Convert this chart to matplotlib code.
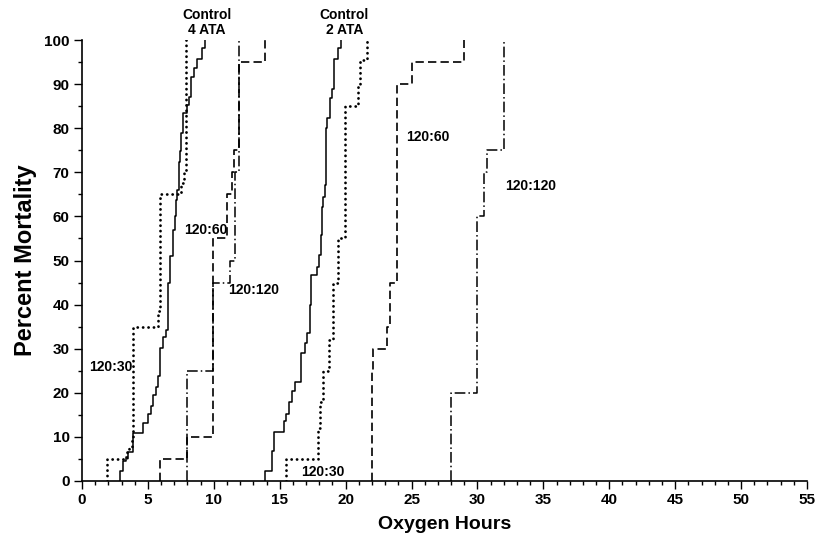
import numpy as np
import matplotlib.pyplot as plt
from matplotlib.ticker import MultipleLocator

plt.rcParams['font.family'] = ['Liberation Sans', 'DejaVu Sans']
plt.rcParams['font.weight'] = 'bold'

# 4 ATA group: step times (oxygen hours) and cumulative mortality (%)
ctrl4_x = [2.9, 3.1, 3.3, 3.5, 3.9, 4.65, 5.0, 5.25, 5.4, 5.6, 5.75, 5.92, 6.12, 6.37, 6.55,
           6.7, 6.88, 7.06, 7.13, 7.23, 7.36, 7.44, 7.51, 7.69, 7.99, 8.14, 8.27, 8.5, 8.7, 9.08, 9.33]
ctrl4_y = [2.3, 4.5, 5.5, 6.6, 10.9, 13.1, 15.2, 17, 19.5, 21.4, 23.7, 30.1, 32.7, 34.2, 44.8,
           51, 57, 60, 63.7, 66, 72.4, 74.8, 78.8, 83.4, 85.3, 87.1, 91.7, 93.6, 95.8, 98.1, 100]
i30_4_x = [1.92, 3.4, 3.6, 3.77, 3.9, 5.75, 5.92, 7.5, 7.7, 7.9]
i30_4_y = [5, 6.5, 7.8, 9.7, 35, 38.5, 65, 67.5, 70, 100]
i60_4_x = [5.92, 7.94, 9.96, 10.97, 11.36, 11.53, 11.94, 13.9]
i60_4_y = [5, 10, 55, 65, 70, 75, 95, 100]
i120_4_x = [7.94, 9.96, 11.23, 11.6, 11.94]
i120_4_y = [25, 45, 50, 70, 100]

# 2 ATA group
ctrl2_x = [13.9, 14.4, 14.6, 15.3, 15.5, 15.7, 15.9, 16.16, 16.6, 16.9, 17.1, 17.3, 17.37,
           17.85, 17.98, 18.1, 18.2, 18.3, 18.4, 18.5, 18.57, 18.8, 19.0, 19.14, 19.45, 19.65]
ctrl2_y = [2.3, 6.8, 11.2, 13.5, 15.3, 18, 20.3, 22.5, 29, 31.2, 33.5, 40, 46.7,
           48.6, 51.2, 55.8, 62.2, 64.5, 67.1, 80, 82.2, 86.8, 89, 95.8, 98.1, 100]
i30_2_x = [15.5, 17.9, 18.05, 18.26, 18.76, 19.05, 19.45, 19.95, 20.9, 21.1, 21.6]
i30_2_y = [5, 12, 18, 25, 32, 45, 55, 85, 90, 95.5, 100]
i60_2_x = [22.0, 22.1, 23.17, 23.37, 23.9, 25.0, 29.0]
i60_2_y = [25, 30, 35, 45, 90, 95, 100]
i120_2_x = [28.0, 30.0, 30.5, 30.75, 32.0]
i120_2_y = [20, 60, 70, 75, 100]

dotted = dict(color='black', lw=2.0, linestyle=(0, (0.05, 1.9)), dash_capstyle='round')
solid = dict(color='black', lw=1.1)
dashed = dict(color='black', lw=1.2, linestyle=(0, (5, 2.5)))
dashdot = dict(color='black', lw=1.1, linestyle=(0, (7, 2, 1, 2)))


def draw(ax, xs, ys, style):
    x = np.r_[xs[0], xs]
    y = np.r_[0, ys]
    ax.step(x, y, where='post', **style)


fig = plt.figure(figsize=(8.31, 5.46), dpi=100)
ax = fig.add_axes([82 / 831, 1 - 481 / 546, 725 / 831, 441 / 546])

draw(ax, ctrl4_x, ctrl4_y, solid)
draw(ax, i30_4_x, i30_4_y, dotted)
draw(ax, i60_4_x, i60_4_y, dashed)
draw(ax, i120_4_x, i120_4_y, dashdot)
draw(ax, ctrl2_x, ctrl2_y, solid)
draw(ax, i30_2_x, i30_2_y, dotted)
draw(ax, i60_2_x, i60_2_y, dashed)
draw(ax, i120_2_x, i120_2_y, dashdot)

ax.set_xlim(0, 55)
ax.set_ylim(0, 100)
ax.xaxis.set_major_locator(MultipleLocator(5))
ax.xaxis.set_minor_locator(MultipleLocator(1))
ax.yaxis.set_major_locator(MultipleLocator(10))
ax.yaxis.set_minor_locator(MultipleLocator(5))
ax.tick_params(which='major', direction='out', length=6, width=1, labelsize=11, pad=3)
ax.tick_params(which='minor', direction='out', length=3, width=1)
for lab in ax.get_xticklabels() + ax.get_yticklabels():
    lab.set_fontweight('bold')
for s in ['top', 'right']:
    ax.spines[s].set_visible(False)
for s in ['left', 'bottom']:
    ax.spines[s].set_linewidth(1.2)

ax.set_xlabel('Oxygen Hours', fontsize=14, fontweight='bold', labelpad=6)
ax.set_ylabel('Percent Mortality', fontsize=17, fontweight='bold', labelpad=5)

txt = dict(fontsize=10, fontweight='bold', ha='center', va='center', clip_on=False)
ax.text(9.45, 104.0, 'Control\n4 ATA', linespacing=1.05, **txt)
ax.text(19.9, 104.0, 'Control\n2 ATA', linespacing=1.05, **txt)
ax.text(2.19, 25.9, '120:30', **txt)
ax.text(9.4, 56.9, '120:60', **txt)
ax.text(13.04, 43.3, '120:120', **txt)
ax.text(18.25, 2.1, '120:30', **txt)
ax.text(26.2, 78.1, '120:60', **txt)
ax.text(34.0, 66.9, '120:120', **txt)

fig.savefig('out.png', dpi=100)
